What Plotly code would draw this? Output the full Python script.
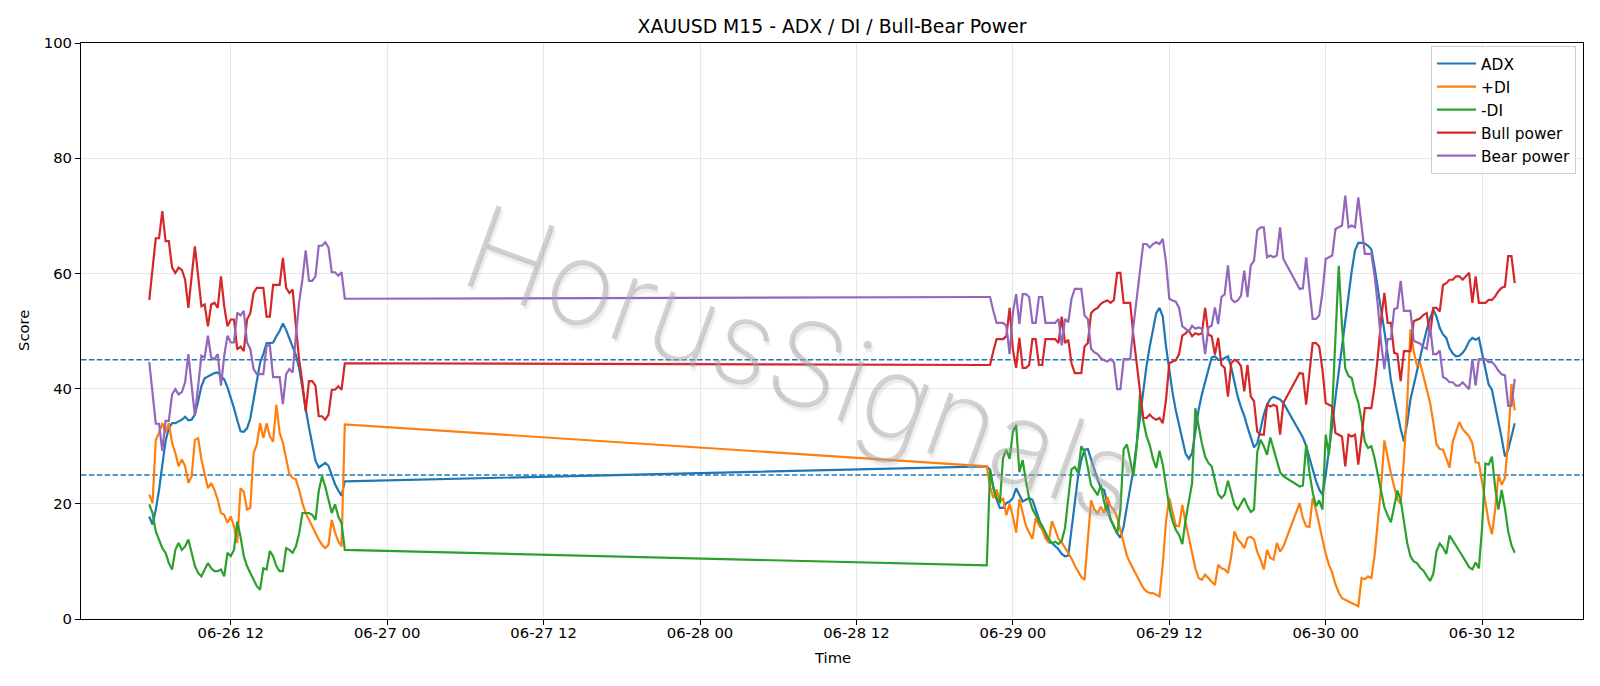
import pandas as pd
import plotly.graph_objects as go

# ---------------- data ----------------
# M15 bars in three sessions (weekend gap and daily break)
seg_starts = ["2026-06-26 05:45", "2026-06-28 22:00", "2026-06-29 22:00"]
seg_lengths = [61, 92, 67]

adx_1 = [17.8,16.4,19,22.4,26.7,30.9,33.1,34,34,34.3, 34.6,35.1,34.5,34.6,35.5,37.8,40.4,41.8,42.1,42.3,
         42.7,42.8,42.2,41.6,40.2,38.5,36.6,34.5,32.6,32.5, 33.1,34.8,38,41.5,44.5,46,47.9,47.9,48,49.1,
         50,51.3,50.2,48.7,47.3,45.8,43.5,39.7,36.5,33.3, 30.5,27.5,26.3,26.7,27.1,26.6,24.8,23.4,22.3,21.4,23.9]
adx_2 = [26.5,25.9,22.8,20.8,19.3,19.3,20.1,20.4,21,22.7, 21.6,20.4,20.7,21,20.7,19,17.5,15.7,14.5,13.3,
         13.2,12.7,12.1,11.3,10.9,11,15.5,20.1,24.7,27.6, 29.4,29.5,27.6,25.9,24.2,22.7,22.4,20.1,17.2,16.1,
         14.9,14.1,16.1,19.5,22.4,25.9,30.5,35.2,39.8,43.9, 47.3,50.2,53.1,54,52.5,47.3,43.2,39.3,36.2,33.7,
         31.1,28.7,27.8,28.8,32.5,36.3,39,41,43.3,45.4, 45.6,45,45,45.3,45.6,43.7,41,38.6,36.8,35.3,
         33.3,31.5,29.8,30.5,33,35.5,37.2,38.2,38.6,38.3, 38.1,37.5]
adx_3 = [32.3,31.5,30,28,26,24,22.5,21.6,25,29, 33.5,38.5,43,47.5,52,56.5,60.5,64,65.3,65.3,
         65.2,64.8,64.2,61,57.5,54,50,46,41.5,38.5, 35.5,33,30.8,34,38.1,40.7,43.3,45.6,47.9,50.2,
         52.2,53.7,52.5,50.5,49.4,48.8,47,46.1,45.6,45.7, 46.2,47,48.2,48.8,48.5,48.8,45.9,43.3,40.7,39.8,
         37.2,34.3,31.4,28.2,29.4,31.7,34]

pdi_1 = [21.6,20.1,31.1,32.3,34,32.3,34,30.6,28.8,26.5, 27.7,26.5,23.6,24.8,31.1,31.4,27.7,25.3,22.7,23.6,
         22.4,20.7,18.4,18.1,16.7,17.8,16.1,13.2,22.7,22.1, 19,19.3,28.8,30.3,34,31.4,34,31.7,30.8,37.2,
         32.3,30.6,27.7,25.1,24.5,24.2,22.4,20.1,18.4,17.2, 16.1,14.9,13.8,12.9,12.3,12.9,17.2,15,13.5,12.6,33.8]
pdi_2 = [26.5,23,21,22.5,20.3,21,18,20,17.8,15, 20.8,18.5,16.2,15,13.9,17.5,16.3,15.5,14,13.3,
         17,15.5,13.9,13.3,12.4,11.5,10.5,9.3,8.2,7.3, 6.8,14.5,20.6,19,18.4,19.5,18.4,21.2,19.5,19,
         17.6,15.4,13.2,11,9.7,8.6,7.4,6.3,5.4,4.8, 4.5,4.5,4.2,3.9,9.5,17,21,18.5,16.2,16.1,
         19.8,16.8,14.1,12,8.8,7.1,6.8,7.7,7.1,6.5, 5.9,9.4,8.8,8.6,8,10.9,15.2,13.8,13.2,12.3,
         14.1,14.3,13.8,11.6,10.3,8.6,12,10.6,10.3,13.2, 11.7,12.6]
pdi_3 = [20.1,17.5,16.1,16,21,19,16.3,13.6,11.3,9.4, 8,6,4.6,3.6,3.3,3.1,2.8,2.5,2.2,7.1,
         6.9,7.4,7.1,11,16.7,23,31,28,25.3,23, 20.8,20,27.7,37.5,50.3,46.5,44,44.4,42.2,39.9,
         37.6,34.2,30.3,29.5,29.4,27.9,26.3,30.8,32.5,34.2, 33,32.4,31.7,30.5,27.2,27.1,23.8,19.8,16.9,14.7,
         19,25,23.3,24.5,31,40.8,36.2]

mdi_1 = [19.9,18.4,15.2,13.8,12.3,11.5,9.7,8.6,12,13.2, 12,12.6,13.8,11.5,9.2,8,7.4,8.6,9.7,8.8,
         8.3,8.3,8.6,7.4,11.5,10.9,12,16.9,14.3,10.9, 9.2,8,6.8,5.7,5.1,8.8,8.6,11.8,10.9,9.2,
         8.3,8.3,12.3,12,11.5,12.6,14.9,18.4,18.4,18.4, 18.1,17.2,22.2,24.8,23,20.7,18.4,19.9,17.8,16.6,12]
mdi_2 = [9.3,25.9,22.8,21,20.1,28,29.4,27.8,32.5,33.7, 25.5,27.6,24,20.9,19.1,17.9,17,16.2,15,13.9,
         13.2,13.4,13,13.6,15.8,20.5,26,26.4,25.4,30, 29,26.3,23.2,22.4,21.5,23.3,20.3,18.6,17.3,16.2,
         14.8,19,29.5,30.3,27.2,24.8,30,39,34.5,31.8, 30.2,27.8,26.2,29.2,26.8,23,19.5,17,15.5,14.6,
         13,17.2,20.1,23.6,36.6,33.4,30.5,28.2,27.1,26.5, 24,21.7,21,21.6,24,21.8,19.8,19,20,21,
         19.6,18.6,19,29,31.1,30,28.5,31.5,29.5,27.3, 25.5,24.8]
mdi_3 = [23,23.2,30.3,25.5,22,19.6,20.6,19,32,28.5, 36.5,49,61.3,50.8,43.5,42.2,41.8,39.3,37.6,34.5,
         30.8,29.7,30,27.9,25,22.6,19.4,18,16.8,19.5, 22.3,20.7,16.7,13.2,10.9,10,9.7,8.9,8.4,7.5,
         6.6,7.8,11.8,13.1,12.4,11.3,14.5,13.6,12.6,11.8, 10.9,10,9,8.6,9.8,8.8,16,27,26.8,28.2,
         22.8,19,22.4,19.2,15.2,12.8,11.5]

bull_1 = [55.4,61,66.1,66.1,70.8,65.6,65.6,61,60.1,61, 60.6,58.9,54,59.5,64.7,59.5,54.3,54.6,50.8,54.6,
          54.9,54,59.5,54.3,50.8,52,52,46.8,47.3,46.5, 52,53.1,56.6,57.5,57.5,57.5,52.5,52.5,58,58,
          58,62.7,57.5,56.6,57.2,50.8,45,41,36,41.3, 41.3,40.5,35.2,35.2,34.6,35.5,39.8,39.8,40.4,39.8,44.4]
bull_2 = [44.1,44.1,46.5,48.6,48.6,48.6,49.1,54,46.8,43.6, 48.8,43.6,43.6,44.1,48.6,48.6,44.1,44.1,48.6,48.6,
          48.6,48.6,47.9,52.5,47.9,48.5,44.4,42.7,42.7,42.7, 47.3,47.9,53.1,53.7,54,54.7,55.1,55.3,54.9,55.4,
          60.1,60.1,54.9,54.9,54.9,49.1,44.4,40.1,34.9,34.9, 35.5,34.9,34.6,34.9,34,38.1,44.4,44.7,44.9,46,
          49.2,49.6,50.1,49.1,49.6,49.4,49.6,54,49.4,49.1, 45.9,48.8,44.1,43.6,38.6,44.4,45,44.7,43.9,39.5,
          44.1,38.6,37.8,32.5,32,32,37.2,36.9,37.2,36.9, 32,37.5]
bull_3 = [42.7,42.6,37.2,42.7,47.9,47.9,47.3,43.3,37.5,37.2, 36.9,32.3,32,31.7,26.5,32,31.7,32,26.8,32.3,
          36.6,36.6,36.6,40.4,45.6,52,56.6,51.4,51.4,46.2, 46,41.3,46.5,46.5,46.5,51.7,52,52.2,52.8,53.1,
          49.1,54,54,53.4,58,58.3,58.9,58.9,59.5,59.5, 58.9,59.5,60.1,54.9,59.5,54.9,54.9,54.9,55.4,55.4,
          56,56.9,57.5,57.7,63,63,58.3]

bear_1 = [44.6,39,33.9,33.9,29.2,34.4,34.4,39,39.9,39, 39.4,41.1,46,40.5,35.3,40.5,45.7,45.4,49.2,45.4,
          45.1,46,40.5,45.7,49.2,48,48,53.2,52.7,53.5, 48,46.9,43.4,42.5,42.5,42.5,47.5,47.5,42,42,
          42,37.3,42.5,43.4,42.8,49.2,55,59,64,58.7, 58.7,59.5,64.8,64.8,65.4,64.5,60.2,60.2,59.6,60.2,55.6]
bear_2 = [55.9,55.9,53.5,51.4,51.4,51.4,50.9,46,53.2,56.4, 51.2,56.4,56.4,55.9,51.4,51.4,55.9,55.9,51.4,51.4,
          51.4,51.4,52.1,47.5,52.1,51.5,55.6,57.3,57.3,57.3, 52.7,52.1,46.9,46.3,46,45.3,44.9,44.7,45.1,44.6,
          39.9,39.9,45.1,45.1,45.1,50.9,55.6,59.9,65.1,65.1, 64.5,65.1,65.4,65.1,66,61.9,55.6,55.3,55.1,54,
          50.8,50.4,49.9,50.9,50.4,50.6,50.4,46,50.6,50.9, 54.1,51.2,55.9,56.4,61.4,55.6,55,55.3,56.1,60.5,
          55.9,61.4,62.2,67.5,68,68,62.8,63.1,62.8,63.1, 68,62.5]
bear_3 = [57.3,57.4,62.8,57.3,52.1,52.1,52.7,56.7,62.5,62.8, 63.1,67.7,68,68.3,73.5,68,68.3,68,73.2,67.7,
          63.4,63.4,63.4,59.6,54.4,48,43.4,48.6,48.6,53.8, 54,58.7,53.5,53.5,53.5,48.3,48,47.8,47.2,46.9,
          50.9,46,46,46.6,42,41.7,41.1,41.1,40.5,40.5, 41.1,40.5,39.9,45.1,40.5,45.1,45.1,45.1,44.6,44.6,
          44,43.1,42.5,42.3,37,37,41.7]

thresholds = [25, 45]
series_names = ["ADX", "+DI", "-DI", "Bull power", "Bear power"]
series_colors = ["#1f77b4", "#ff7f0e", "#2ca02c", "#d62728", "#9467bd"]

# ---------------- build ----------------
times = []
for s, n in zip(seg_starts, seg_lengths):
    times += list(pd.date_range(s, periods=n, freq="15min"))

series_values = [adx_1 + adx_2 + adx_3, pdi_1 + pdi_2 + pdi_3, mdi_1 + mdi_2 + mdi_3,
                 bull_1 + bull_2 + bull_3, bear_1 + bear_2 + bear_3]
for v in series_values:
    assert len(v) == len(times), (len(v), len(times))

span = times[-1] - times[0]
x_range = [times[0] - 0.05 * span, times[-1] + 0.05 * span]

FONT = "DejaVu Sans"
TICK = 14.8
fig = go.Figure()

for th in thresholds:
    fig.add_trace(go.Scatter(x=[x_range[0], x_range[1]], y=[th, th], mode="lines",
                             line=dict(color="#1f77b4", width=1.45, dash="5.5px,2.4px"),
                             showlegend=False, hoverinfo="skip"))

for name, color, vals in zip(series_names, series_colors, series_values):
    fig.add_trace(go.Scatter(x=times, y=vals, mode="lines", name=name, legendgroup=name,
                             line=dict(color=color, width=2.2)))

fig.update_layout(
    width=1600, height=686,
    margin=dict(l=81, r=17, t=43, b=67),
    paper_bgcolor="white", plot_bgcolor="white",
    font=dict(family=FONT, size=TICK, color="black"),
    showlegend=True,
    legend=dict(x=1 - 7 / 1502, xanchor="right", y=1 - 3 / 576, yanchor="top",
                bgcolor="rgba(255,255,255,0.8)", bordercolor="#cccccc", borderwidth=1,
                font=dict(family=FONT, size=15.4, color="black"), tracegroupgap=0,
                itemwidth=39),
    title=dict(text="XAUUSD M15 - ADX / DI / Bull-Bear Power", x=0.5, xref="paper",
               y=1 - 26 / 686, yref="container", xanchor="center", yanchor="middle",
               font=dict(family=FONT, size=18.8, color="black")),
    xaxis=dict(type="date", range=x_range, tickformat="%m-%d %H",
               tick0="2026-06-26 00:00", dtick=12 * 3600 * 1000,
               showgrid=True, gridcolor="#e7e7e7", gridwidth=1.1,
               showline=True, linecolor="black", linewidth=1.1, mirror=True,
               ticks="outside", ticklen=5, tickwidth=1.1, tickcolor="black",
               ticklabelstandoff=-5,
               tickfont=dict(family=FONT, size=TICK), zeroline=False),
    yaxis=dict(range=[0, 100], dtick=20, tick0=0,
               showgrid=True, gridcolor="#e7e7e7", gridwidth=1.1,
               showline=True, linecolor="black", linewidth=1.1, mirror=True,
               ticks="outside", ticklen=5, tickwidth=1.1, tickcolor="black",
               tickfont=dict(family=FONT, size=TICK), zeroline=False),
    annotations=[
        dict(text="Time", xref="paper", yref="paper", x=0.5, y=0, yshift=-38,
             xanchor="center", yanchor="middle", showarrow=False,
             font=dict(family=FONT, size=TICK, color="black")),
        dict(text="Score", xref="paper", yref="paper", x=0, y=0.5, xshift=-58,
             xanchor="center", yanchor="middle", showarrow=False, textangle=-90,
             font=dict(family=FONT, size=TICK, color="black")),
        dict(text="HorusSignals", xref="paper", yref="paper", x=0.481, y=0.445,
             xanchor="center", yanchor="middle", showarrow=False, textangle=20,
             font=dict(family="DejaVu Sans ExtraLight, Inter, DejaVu Sans", size=117,
                       color="rgba(165,165,165,0.5)", weight=200,
                       shadow="3px 3px 2px rgba(150,150,150,0.35)")),
    ],
)

fig.write_html("out.html")
